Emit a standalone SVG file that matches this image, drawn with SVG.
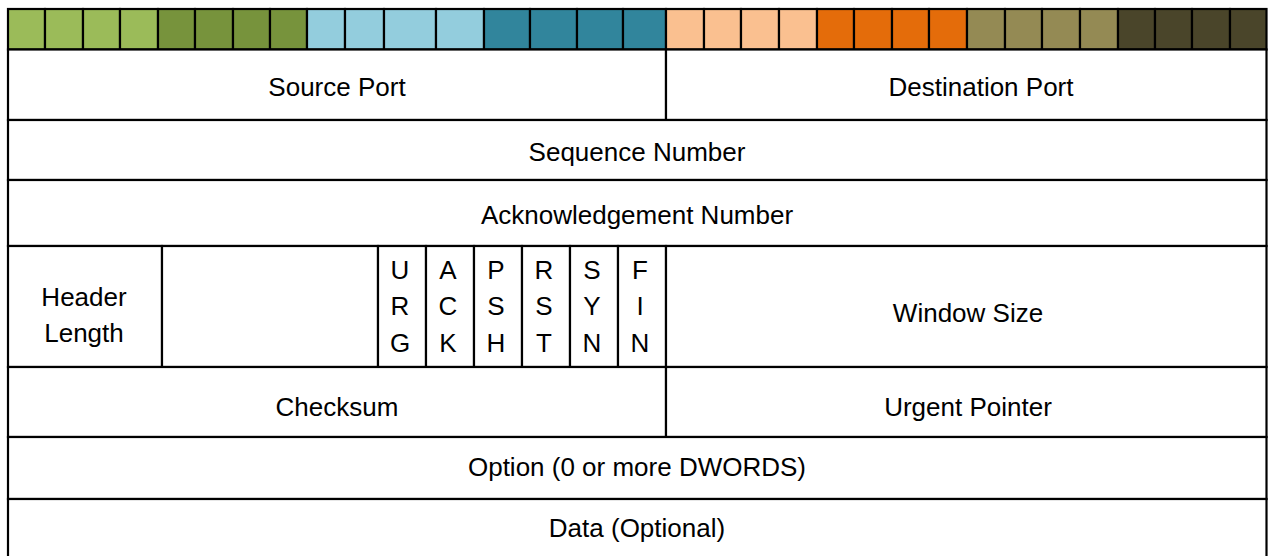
<svg xmlns="http://www.w3.org/2000/svg" width="1273" height="556" viewBox="0 0 1273 556">
<style>
.c{stroke:#000;stroke-width:2.2}
.f{fill:#fff;stroke:#000;stroke-width:2.2}
.t{font-family:"Liberation Sans",Arial,sans-serif;font-size:26px;fill:#000;text-anchor:middle}
.g1{fill:#9BBB59}.g2{fill:#77933C}.g3{fill:#93CDDD}.g4{fill:#31859C}
.g5{fill:#FAC090}.g6{fill:#E46C0A}.g7{fill:#948A54}.g8{fill:#4A452A}
</style>
<rect width="1273" height="556" fill="#fff"/>
<g id="bit-ruler">
<rect class="c g1" x="8" y="9" width="37" height="40.5"/>
<rect class="c g1" x="45" y="9" width="38" height="40.5"/>
<rect class="c g1" x="83" y="9" width="37" height="40.5"/>
<rect class="c g1" x="120" y="9" width="38" height="40.5"/>
<rect class="c g2" x="158" y="9" width="37" height="40.5"/>
<rect class="c g2" x="195" y="9" width="38" height="40.5"/>
<rect class="c g2" x="233" y="9" width="37" height="40.5"/>
<rect class="c g2" x="270" y="9" width="37" height="40.5"/>
<rect class="c g3" x="307" y="9" width="38" height="40.5"/>
<rect class="c g3" x="345" y="9" width="39" height="40.5"/>
<rect class="c g3" x="384" y="9" width="52" height="40.5"/>
<rect class="c g3" x="436" y="9" width="48" height="40.5"/>
<rect class="c g4" x="484" y="9" width="46" height="40.5"/>
<rect class="c g4" x="530" y="9" width="47" height="40.5"/>
<rect class="c g4" x="577" y="9" width="46" height="40.5"/>
<rect class="c g4" x="623" y="9" width="43" height="40.5"/>
<rect class="c g5" x="666" y="9" width="38" height="40.5"/>
<rect class="c g5" x="704" y="9" width="37" height="40.5"/>
<rect class="c g5" x="741" y="9" width="38" height="40.5"/>
<rect class="c g5" x="779" y="9" width="38" height="40.5"/>
<rect class="c g6" x="817" y="9" width="37" height="40.5"/>
<rect class="c g6" x="854" y="9" width="38" height="40.5"/>
<rect class="c g6" x="892" y="9" width="37" height="40.5"/>
<rect class="c g6" x="929" y="9" width="38" height="40.5"/>
<rect class="c g7" x="967" y="9" width="38" height="40.5"/>
<rect class="c g7" x="1005" y="9" width="37" height="40.5"/>
<rect class="c g7" x="1042" y="9" width="38" height="40.5"/>
<rect class="c g7" x="1080" y="9" width="38" height="40.5"/>
<rect class="c g8" x="1118" y="9" width="37" height="40.5"/>
<rect class="c g8" x="1155" y="9" width="37" height="40.5"/>
<rect class="c g8" x="1192" y="9" width="38" height="40.5"/>
<rect class="c g8" x="1230" y="9" width="36.5" height="40.5"/>
</g>
<g id="source-port"><rect class="f" x="8" y="49.5" width="658" height="70.5"/><text class="t" x="337" y="96">Source Port</text></g>
<g id="destination-port"><rect class="f" x="666" y="49.5" width="600.5" height="70.5"/><text class="t" x="981" y="96">Destination Port</text></g>
<g id="sequence-number"><rect class="f" x="8" y="120" width="1258.5" height="60"/><text class="t" x="637" y="161">Sequence Number</text></g>
<g id="acknowledgement-number"><rect class="f" x="8" y="180" width="1258.5" height="66"/><text class="t" x="637" y="224">Acknowledgement Number</text></g>
<g id="header-length"><rect class="f" x="8" y="246" width="154" height="121"/><text class="t" x="84" y="306">Header</text><text class="t" x="84" y="342">Length</text></g>
<g id="reserved"><rect class="f" x="162" y="246" width="216" height="121"/></g>
<g id="flag-urg"><rect class="f" x="378" y="246" width="48" height="121"/><text class="t" x="400" y="279">U</text><text class="t" x="400" y="315">R</text><text class="t" x="400" y="352">G</text></g>
<g id="flag-ack"><rect class="f" x="426" y="246" width="48" height="121"/><text class="t" x="448" y="279">A</text><text class="t" x="448" y="315">C</text><text class="t" x="448" y="352">K</text></g>
<g id="flag-psh"><rect class="f" x="474" y="246" width="48" height="121"/><text class="t" x="496" y="279">P</text><text class="t" x="496" y="315">S</text><text class="t" x="496" y="352">H</text></g>
<g id="flag-rst"><rect class="f" x="522" y="246" width="48" height="121"/><text class="t" x="544" y="279">R</text><text class="t" x="544" y="315">S</text><text class="t" x="544" y="352">T</text></g>
<g id="flag-syn"><rect class="f" x="570" y="246" width="48" height="121"/><text class="t" x="592" y="279">S</text><text class="t" x="592" y="315">Y</text><text class="t" x="592" y="352">N</text></g>
<g id="flag-fin"><rect class="f" x="618" y="246" width="48" height="121"/><text class="t" x="640" y="279">F</text><text class="t" x="640" y="315">I</text><text class="t" x="640" y="352">N</text></g>
<g id="window-size"><rect class="f" x="666" y="246" width="600.5" height="121"/><text class="t" x="968" y="322">Window Size</text></g>
<g id="checksum"><rect class="f" x="8" y="367" width="658" height="70"/><text class="t" x="337" y="416">Checksum</text></g>
<g id="urgent-pointer"><rect class="f" x="666" y="367" width="600.5" height="70"/><text class="t" x="968" y="416">Urgent Pointer</text></g>
<g id="option"><rect class="f" x="8" y="437" width="1258.5" height="62"/><text class="t" x="637" y="476">Option (0 or more DWORDS)</text></g>
<g id="data"><rect class="f" x="8" y="499" width="1258.5" height="70"/><text class="t" x="637" y="537">Data (Optional)</text></g>
<g id="connectors"></g>
</svg>
